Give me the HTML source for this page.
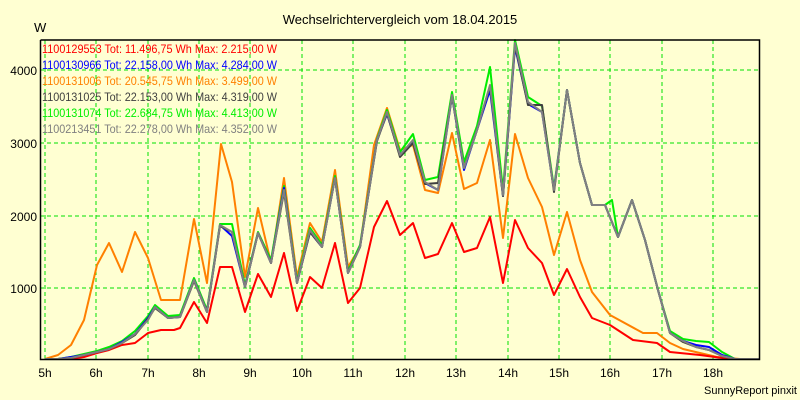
<!DOCTYPE html>
<html><head><meta charset="utf-8"><style>
html,body{margin:0;padding:0;background:#ffffd2;}
svg{display:block;font-family:"Liberation Sans",sans-serif;}
</style></head><body>
<svg width="800" height="400" viewBox="0 0 800 400" xmlns="http://www.w3.org/2000/svg">
<rect x="0" y="0" width="800" height="400" fill="#ffffd2"/>
<text x="400" y="24" font-size="13" text-anchor="middle" fill="#000">Wechselrichtervergleich vom 18.04.2015</text>
<text x="34" y="32" font-size="13" fill="#000">W</text>
<g stroke="#00e000" stroke-width="1" stroke-dasharray="4,3" fill="none">
<line x1="45" y1="40" x2="45" y2="359"/><line x1="96" y1="40" x2="96" y2="359"/><line x1="148" y1="40" x2="148" y2="359"/><line x1="199" y1="40" x2="199" y2="359"/><line x1="250" y1="40" x2="250" y2="359"/><line x1="302" y1="40" x2="302" y2="359"/><line x1="353" y1="40" x2="353" y2="359"/><line x1="405" y1="40" x2="405" y2="359"/><line x1="456" y1="40" x2="456" y2="359"/><line x1="508" y1="40" x2="508" y2="359"/><line x1="559" y1="40" x2="559" y2="359"/><line x1="610" y1="40" x2="610" y2="359"/><line x1="662" y1="40" x2="662" y2="359"/><line x1="713" y1="40" x2="713" y2="359"/>
<line x1="40" y1="70" x2="759" y2="70"/><line x1="40" y1="143" x2="759" y2="143"/><line x1="40" y1="216" x2="759" y2="216"/><line x1="40" y1="288" x2="759" y2="288"/>
</g>
<g font-size="12" fill="#000" text-anchor="end">
<text x="37" y="75">4000</text><text x="37" y="148">3000</text><text x="37" y="221">2000</text><text x="37" y="293">1000</text>
</g>
<g font-size="12" fill="#000" text-anchor="middle">
<text x="45" y="377">5h</text><text x="96" y="377">6h</text><text x="148" y="377">7h</text><text x="199" y="377">8h</text><text x="250" y="377">9h</text><text x="302" y="377">10h</text><text x="353" y="377">11h</text><text x="405" y="377">12h</text><text x="456" y="377">13h</text><text x="508" y="377">14h</text><text x="559" y="377">15h</text><text x="610" y="377">16h</text><text x="662" y="377">17h</text><text x="713" y="377">18h</text>
</g>
<text x="797" y="394" font-size="11" text-anchor="end" fill="#000">SunnyReport pinxit</text>
<g fill="none" stroke-width="2" stroke-linejoin="round">
<polyline stroke="#ff8000" points="45,359 58,355 71,345 84,320 97,265 109,243 122,272 135,232 148,258 161,300 174,300 180,300 194,219 207,283 221,144 232,182 245,277 258,208 271,263 284,178 297,277 310,223 322,242 335,170 348,267 360,247 374,145 387,108 400,150 413,145 425,190 438,193 452,133 464,189 477,183 490,140 503,238 515,134 528,178 542,207 554,255 567,212 580,260 592,292 610,315 643,333 657,333 670,343 683,349 700,353 717,357 740,359"/>
<polyline stroke="#ff0000" points="45,359 71,359 84,357 97,353 109,350 122,345 135,343 148,333 161,330 174,330 180,328 194,302 207,323 220,267 232,267 245,312 258,274 271,297 284,253 297,311 310,277 322,288 335,243 348,303 360,288 374,227 387,201 400,235 413,223 425,258 438,254 452,223 464,252 477,248 490,217 503,283 515,220 528,248 542,263 554,295 567,269 580,297 592,318 610,325 633,340 657,343 670,352 700,355 730,359"/>
<polyline stroke="#00ee00" points="45,359 58,359 71,357 84,354 97,351 109,347 122,341 135,331 148,316 155,305 168,316 180,315 194,278 207,310 220,224 232,224 245,285 258,232 271,260 284,186 297,281 310,228 322,245 335,176 348,271 360,245 377,139 387,110 400,152 413,134 425,180 438,177 452,92 464,162 477,126 490,67 503,190 515,40 528,97 542,106 554,188 567,90 580,163 592,205 605,205 612,200 618,237 632,200 645,240 658,290 670,331 683,339 696,341 709,342 722,352 735,359 760,359"/>
<polyline stroke="#0000ff" points="45,359 58,359 71,357 84,355 97,352 109,349 122,342 135,334 148,318 155,307 168,318 180,317 194,280 207,312 220,225 232,236 245,287 258,233 271,263 284,188 297,283 310,232 322,247 335,178 348,273 360,247 377,140 387,114 400,155 413,142 425,183 438,190 452,96 464,170 477,130 490,90 503,196 515,47 528,104 542,112 554,190 567,90 580,163 592,205 605,205 618,237 632,200 645,240 658,290 670,333 683,341 696,345 709,347 722,355 735,359 760,359"/>
<polyline stroke="#404040" points="45,359 58,359 71,358 84,355 97,352 109,349 122,343 135,335 148,319 155,308 168,318 180,317 194,281 207,312 220,226 232,232 245,287 258,233 271,263 284,192 297,283 310,232 322,247 335,178 348,273 360,247 377,141 387,113 400,157 413,143 425,184 438,183 452,96 464,168 477,130 490,86 503,196 515,45 528,105 542,105 554,192 567,90 580,163 592,205 605,205 618,237 632,200 645,240 658,290 670,333 683,342 696,347 709,350 722,356 735,359 760,359"/>
<polyline stroke="#808080" points="45,359 58,359 71,358 84,355 97,352 109,349 122,343 135,334 148,320 155,307 168,318 180,317 194,280 207,312 220,225 232,232 245,287 258,233 271,263 284,190 297,283 310,230 322,247 335,178 348,273 360,247 377,140 387,112 400,155 413,140 425,182 438,190 452,95 464,168 477,130 490,85 503,195 515,43 528,102 542,112 554,190 567,90 580,163 592,205 605,205 618,237 632,200 645,240 658,290 670,333 683,341 696,347 709,350 722,356 735,359 760,359"/>
</g>
<polyline fill="none" stroke="#000" stroke-width="1.5" points="40.5,40 40.5,359.5 759.5,359.5 759.5,40 40.5,40"/>
<g font-size="12">
<text x="42" y="53" fill="#ff0000" textLength="235" lengthAdjust="spacingAndGlyphs">1100129553 Tot: 11.496,75 Wh Max: 2.215,00 W</text>
<text x="42" y="69" fill="#0000ff" textLength="235" lengthAdjust="spacingAndGlyphs">1100130966 Tot: 22.158,00 Wh Max: 4.284,00 W</text>
<text x="42" y="85" fill="#ff8000" textLength="235" lengthAdjust="spacingAndGlyphs">1100131006 Tot: 20.545,75 Wh Max: 3.499,00 W</text>
<text x="42" y="101" fill="#404040" textLength="235" lengthAdjust="spacingAndGlyphs">1100131025 Tot: 22.153,00 Wh Max: 4.319,00 W</text>
<text x="42" y="117" fill="#00ee00" textLength="235" lengthAdjust="spacingAndGlyphs">1100131074 Tot: 22.684,75 Wh Max: 4.413,00 W</text>
<text x="42" y="133" fill="#808080" textLength="235" lengthAdjust="spacingAndGlyphs">1100213451 Tot: 22.278,00 Wh Max: 4.352,00 W</text>
</g>
</svg>
</body></html>
